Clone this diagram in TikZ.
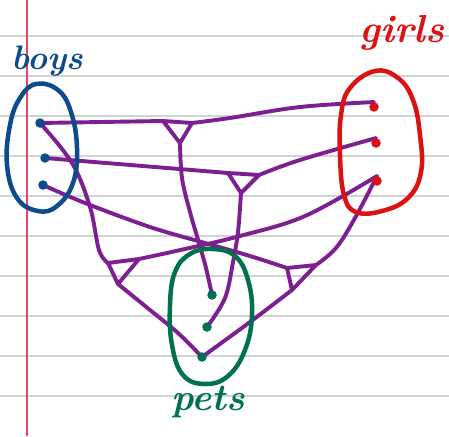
\documentclass[tikz,border=0pt]{standalone}
\definecolor{boyc}{RGB}{12,75,140}
\definecolor{girlc}{RGB}{220,18,18}
\definecolor{petc}{RGB}{0,112,80}
\definecolor{linkc}{RGB}{125,30,145}
\definecolor{rulec}{RGB}{208,212,212}
\definecolor{marginc}{RGB}{225,70,100}
\pgfdeclarelayer{paper}
\pgfdeclarelayer{links}
\pgfsetlayers{paper,links,main}
\begin{document}
\begin{tikzpicture}[x=1pt,y=-1pt,
  link/.style={draw=linkc, line width=3.9pt, line cap=round, line join=round},
  blob/.style={line width=4.5pt, line cap=round, line join=round},
  dotstyle/.style={circle, inner sep=0pt, minimum size=9.5pt},
  hand/.style={font=\fontsize{#1}{#1}\selectfont\bfseries\itshape, inner sep=0pt}
]
\useasboundingbox (0,0) rectangle (449,436);
\begin{pgfonlayer}{paper}
  \fill[white] (0,0) rectangle (449,436);
  \foreach \y in {36,76,...,396} \draw[rulec, line width=2.2pt] (0,\y) -- (449,\y);
  \draw[marginc, line width=2pt] (27,0) -- (27,436);
\end{pgfonlayer}

% sets
\draw[boyc, blob] plot[smooth cycle, tension=0.7] coordinates {(36,84) (58,90) (71,112) (77,148) (73,183) (57,206) (38,211) (17,198) (7,165) (10,125) (20,98)};
\draw[girlc, blob] plot[smooth cycle, tension=0.7] coordinates {(375,71) (398,78) (413,100) (420,135) (421,172) (408,198) (382,211) (356,212) (344,195) (340,155) (341,115) (350,88)};
\draw[petc, blob] plot[smooth cycle, tension=0.7] coordinates {(212,249) (235,256) (248,280) (252,315) (245,350) (228,376) (205,384) (183,375) (172,345) (170,305) (175,272) (190,254)};

% labels
\node[hand=34, text=boyc] (lboys) at (47,61) {boys};
\node[hand=39, text=girlc] (lgirls) at (402,33) {girls};
\node[hand=38, text=petc] (lpets) at (208,402) {pets};

% elements
\node[dotstyle, fill=boyc] (b1) at (40,123) {};
\node[dotstyle, fill=boyc] (b2) at (45,158) {};
\node[dotstyle, fill=boyc] (b3) at (43,185) {};
\node[dotstyle, fill=girlc] (g1) at (374,107) {};
\node[dotstyle, fill=girlc] (g2) at (376,143) {};
\node[dotstyle, fill=girlc] (g3) at (377,181) {};
\node[dotstyle, fill=petc] (p1) at (212,295) {};
\node[dotstyle, fill=petc] (p2) at (207,327) {};
\node[dotstyle, fill=petc] (p3) at (202,357) {};

% junction corners
\coordinate (j1a) at (163,121); \coordinate (j1b) at (192,123); \coordinate (j1c) at (180,143);
\coordinate (j2a) at (228,173); \coordinate (j2b) at (259,175); \coordinate (j2c) at (241,193);
\coordinate (j3a) at (108,263); \coordinate (j3b) at (139,259); \coordinate (j3c) at (118,284);
\coordinate (j4a) at (287,268); \coordinate (j4b) at (316,265); \coordinate (j4c) at (292,290);

\begin{pgfonlayer}{links}
  % triple 1: b1 - g1 - p1
  \draw[link] (b1.center) -- (j1a);
  \draw[link] (j1a) -- (j1b) -- (j1c) -- cycle;
  \draw[link] plot[smooth, tension=0.6] coordinates {(j1b) (230,118) (300,107) (g1.north)};
  \draw[link] plot[smooth, tension=0.6] coordinates {(j1c) (182,178) (190,212) (199,243) (206,268) (p1.center)};
  % triple 2: b2 - g2 - p2
  \draw[link] (b2.center) -- (j2a);
  \draw[link] (j2a) -- (j2b) -- (j2c) -- cycle;
  \draw[link] plot[smooth, tension=0.6] coordinates {(j2b) (300,160) (g2.north)};
  \draw[link] plot[smooth, tension=0.6] coordinates {(j2c) (238,232) (233,262) (225,298) (p2.center)};
  % triple 3: b1 - g3 - p3
  \draw[link] plot[smooth, tension=0.6] coordinates {(b1.center) (72,163) (90,207) (99,250) (j3a)};
  \draw[link] (j3a) -- (j3b) -- (j3c) -- cycle;
  \draw[link] plot[smooth, tension=0.6] coordinates {(j3b) (185,249) (240,236) (305,216) (g3.north)};
  \draw[link] plot[smooth, tension=0.6] coordinates {(j3c) (150,310) (178,333) (p3.center)};
  % triple 4: b3 - g3 - p3
  \draw[link] plot[smooth, tension=0.6] coordinates {(b3.center) (85,203) (150,227) (205,243) (250,256) (j4a)};
  \draw[link] (j4a) -- (j4b) -- (j4c) -- cycle;
  \draw[link] plot[smooth, tension=0.6] coordinates {(j4b) (336,248) (355,218) (g3.north)};
  \draw[link] plot[smooth, tension=0.6] coordinates {(j4c) (250,322) (p3.center)};
\end{pgfonlayer}
\end{tikzpicture}
\end{document}
